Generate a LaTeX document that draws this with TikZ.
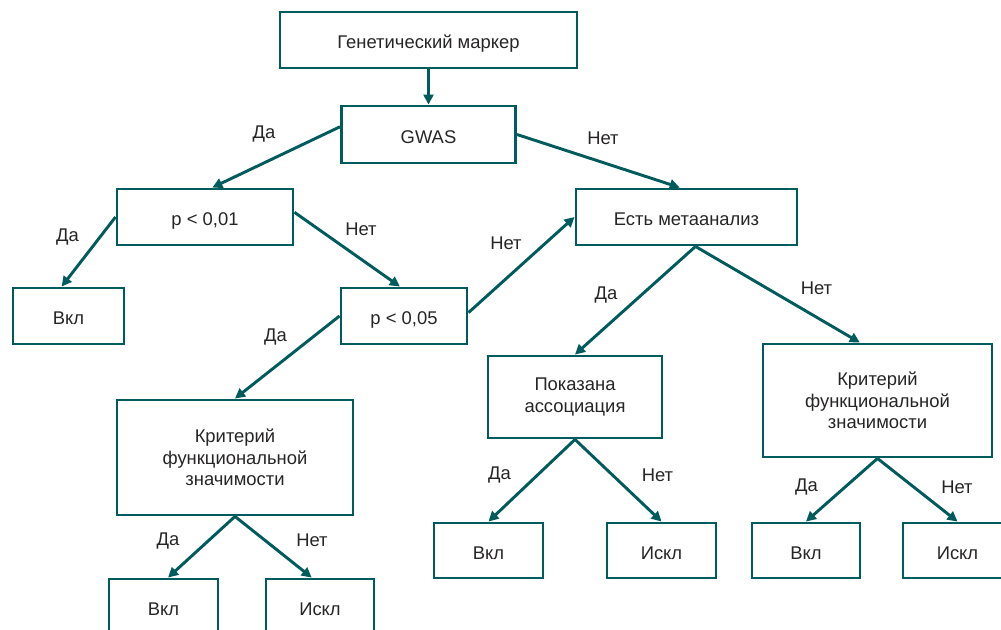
\documentclass[tikz,border=0pt]{standalone}
\usepackage{fontspec}
\setmainfont{Liberation Sans}
\usetikzlibrary{arrows.meta}

\definecolor{boxteal}{RGB}{0,92,92}
\definecolor{inkgrey}{RGB}{38,36,36}

\tikzset{every picture/.style={line width=2.2pt}}
\tikzset{
  box/.style={draw=boxteal, rectangle, inner sep=0.75pt, text=inkgrey,
    font=\fontsize{13.8}{16.3}\selectfont, align=center},
  boxline/.style={box, text height=13.2pt, text depth=0pt},
  lbl/.style={inner sep=0.75pt, text=inkgrey, font=\fontsize{13.8}{16.3}\selectfont},
  link/.style={draw=boxteal, -{Triangle[length=7.5pt,width=7.5pt]}}
}

\begin{document}
\begin{tikzpicture}[x=0.75pt,y=0.75pt,yscale=-1,xscale=1]
\useasboundingbox (0,0) rectangle (1001,630);

%Rect
\node (gen) [boxline, minimum width=222.75pt, minimum height=42pt] at (428.5,40) {Генетический маркер};
%Rect
\node (gwas) [boxline, minimum width=130.5pt, minimum height=42.75pt] at (428.5,134.5) {GWAS};
%Rect
\node (p01) [boxline, minimum width=132pt, minimum height=42pt] at (205,217) {p < 0,01};
%Rect
\node (incl1) [boxline, minimum width=83.25pt, minimum height=42pt] at (68.5,316) {Вкл};
%Rect
\node (p05) [boxline, minimum width=94.5pt, minimum height=42pt] at (404,316) {p < 0,05};
%Rect
\node (meta) [boxline, minimum width=165.75pt, minimum height=42pt] at (686.5,217) {Есть метаанализ};
%Rect
\node (crit1) [box, minimum width=177pt, minimum height=86.25pt] at (235,457.5) {Критерий\\функциональной\\значимости};
%Rect
\node (incl2) [boxline, minimum width=81.75pt, minimum height=41.25pt] at (163.5,606.5) {Вкл};
%Rect
\node (excl2) [boxline, minimum width=81pt, minimum height=41.25pt] at (320,606.5) {Искл};
%Rect
\node (assoc) [box, minimum width=130.5pt, minimum height=61.5pt] at (575,397) {Показана\\ассоциация};
%Rect
\node (incl3) [boxline, minimum width=81.75pt, minimum height=41.25pt] at (488.5,550.5) {Вкл};
%Rect
\node (excl3) [boxline, minimum width=81.75pt, minimum height=41.25pt] at (661.5,550.5) {Искл};
%Rect
\node (crit2) [box, minimum width=171.75pt, minimum height=84.75pt] at (877.5,400.5) {Критерий\\функциональной\\значимости};
%Rect
\node (incl4) [boxline, minimum width=81pt, minimum height=41.25pt] at (806,550.5) {Вкл};
%Rect
\node (excl4) [boxline, minimum width=81.75pt, minimum height=41.25pt] at (957.5,550.5) {Искл};

%Straight Lines
\draw [link] (gen.south) -- (gwas.north);
\draw [link] (gwas.175) -- (p01.76);
\draw [link] (gwas.east) -- (meta.103);
\draw [link] (p01.west) -- (incl1.103);
\draw [link] (p01.3) -- (p05.98);
\draw [link] (p05.3) -- (meta.west);
\draw [link] (p05.west) -- (crit1.north);
\draw [link] (meta.-73) -- (assoc.north);
\draw [link] (meta.-73) -- (crit2.107);
\draw [link] (assoc.south) -- (incl3.north);
\draw [link] (assoc.south) -- (excl3.north);
\draw [link] (crit1.south) -- (incl2.81);
\draw [link] (crit1.south) -- (excl2.106);
\draw [link] (crit2.south) -- (incl4.north);
\draw [link] (crit2.south) -- (excl4.north);

% Text Node
\node (yesA) [lbl] at (264,134) {Да};
\node (noA) [lbl] at (603,138) {Нет};
\node (yesB) [lbl] at (67.5,237) {Да};
\node (noB) [lbl] at (361,229) {Нет};
\node (yesC) [lbl] at (275.5,337.5) {Да};
\node (noC) [lbl] at (506,243) {Нет};
\node (yesD) [lbl] at (606,295) {Да};
\node (noD) [lbl] at (816.5,288) {Нет};
\node (yesE) [lbl] at (499.5,475) {Да};
\node (noE) [lbl] at (657.5,475) {Нет};
\node (yesF) [lbl] at (168,541) {Да};
\node (noF) [lbl] at (312,540) {Нет};
\node (yesG) [lbl] at (806.5,487) {Да};
\node (noG) [lbl] at (957,487) {Нет};

\end{tikzpicture}
\end{document}
